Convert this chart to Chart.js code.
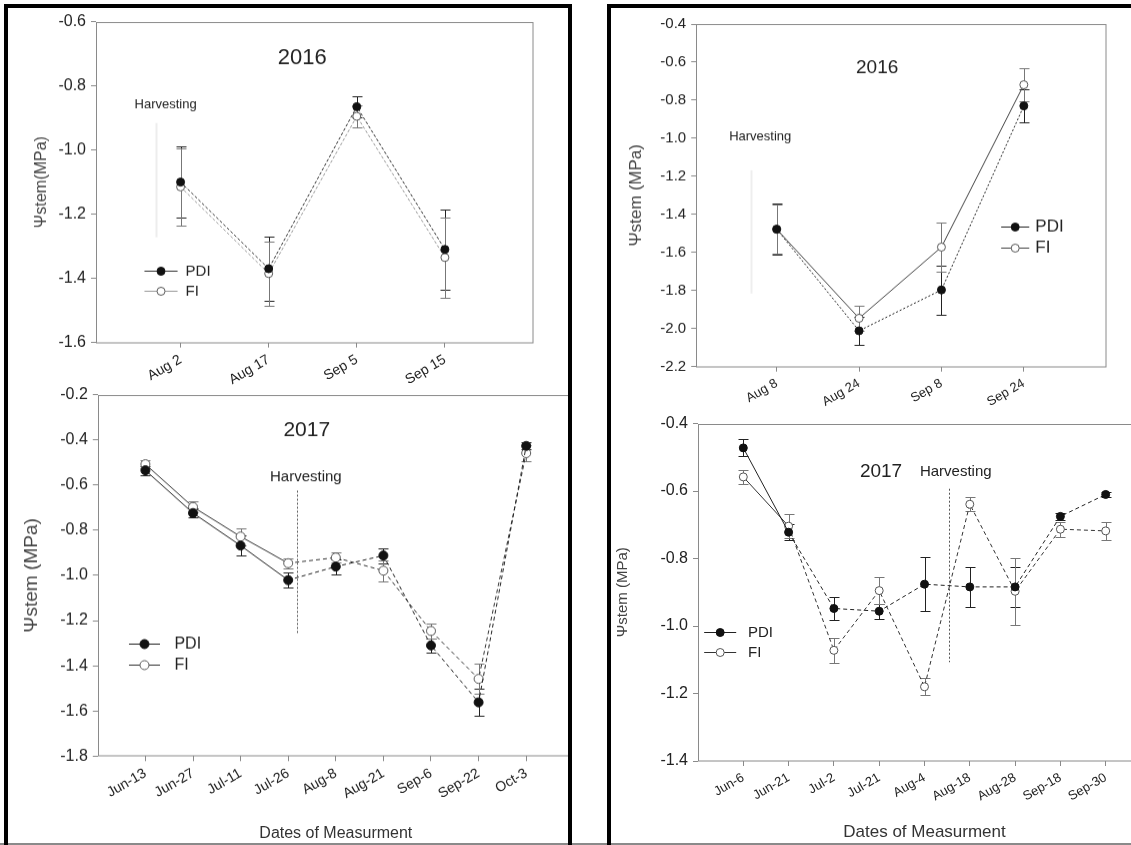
<!DOCTYPE html>
<html>
<head>
<meta charset="utf-8">
<script src="https://cdn.jsdelivr.net/npm/chart.js@4.4.1/dist/chart.umd.min.js"></script>
<style>
  html, body { margin: 0; padding: 0; background: #fff; width: 1131px; height: 845px; overflow: hidden; }
  .panel { position: absolute; top: 4px; height: 900px; border: 4px solid #000; overflow: hidden; }
  #left { left: 4px; width: 560px; }
  #right { left: 607px; width: 620px; }
  .box { position: absolute; left: 0; top: 0; width: 400px; height: 300px; }
  #bottomLine { position: absolute; left: 0; top: 843px; width: 1131px; height: 2px; background: #8a8a8a; }
</style>
</head>
<body>
<div id="bottomLine"></div>
<div id="left" class="panel">
  <div class="box" id="boxL16"><canvas id="cL16"></canvas></div>
  <div class="box" id="boxL17"><canvas id="cL17"></canvas></div>
</div>
<div id="right" class="panel">
  <div class="box" id="boxR16"><canvas id="cR16"></canvas></div>
  <div class="box" id="boxR17"><canvas id="cR17"></canvas></div>
</div>
<script>
// left panel, 2016
const L16_CATS = ['Aug 2', 'Aug 17', 'Sep 5', 'Sep 15'];
const L16_PDI = [-1.10, -1.37, -0.865, -1.31];
const L16_PDI_ERR = [0.11, 0.10, 0.032, 0.125];
const L16_FI = [-1.115, -1.385, -0.895, -1.335];
const L16_FI_ERR = [0.12, 0.10, 0.035, 0.125];
const L16_YTICKS = [-1.6, -1.4, -1.2, -1.0, -0.8, -0.6];

// left panel, 2017
const L17_CATS = ['Jun-13', 'Jun-27', 'Jul-11', 'Jul-26', 'Aug-8', 'Aug-21', 'Sep-6', 'Sep-22', 'Oct-3'];
const L17_PDI = [-0.535, -0.724, -0.868, -1.021, -0.961, -0.912, -1.31, -1.562, -0.427];
const L17_PDI_ERR = [0.02, 0.02, 0.045, 0.032, 0.033, 0.033, 0.03, 0.06, 0.015];
const L17_FI = [-0.508, -0.697, -0.828, -0.946, -0.921, -0.979, -1.246, -1.458, -0.459];
const L17_FI_ERR = [0.017, 0.025, 0.038, 0.022, 0.022, 0.046, 0.032, 0.066, 0.035];
const L17_YTICKS = [-1.8, -1.6, -1.4, -1.2, -1.0, -0.8, -0.6, -0.4, -0.2];

// right panel, 2016
const R16_CATS = ['Aug 8', 'Aug 24', 'Sep 8', 'Sep 24'];
const R16_PDI = [-1.478, -2.012, -1.797, -0.83];
const R16_PDI_ERR = [0.135, 0.075, 0.13, 0.087];
const R16_FI = [-1.478, -1.946, -1.572, -0.719];
const R16_FI_ERR = [0.13, 0.065, 0.13, 0.088];
const R16_YTICKS = [-2.2, -2.0, -1.8, -1.6, -1.4, -1.2, -1.0, -0.8, -0.6, -0.4];

// right panel, 2017
const R17_CATS = ['Jun-6', 'Jun-21', 'Jul-2', 'Jul-21', 'Aug-4', 'Aug-18', 'Aug-28', 'Sep-18', 'Sep-30'];
const R17_PDI = [-0.472, -0.722, -0.948, -0.956, -0.876, -0.884, -0.884, -0.675, -0.61];
const R17_PDI_ERR = [0.025, 0.024, 0.033, 0.022, 0.08, 0.06, 0.06, 0.01, 0.008];
const R17_FI = [-0.558, -0.704, -1.072, -0.895, -1.18, -0.639, -0.897, -0.713, -0.718];
const R17_FI_ERR = [0.02, 0.035, 0.038, 0.04, 0.025, 0.02, 0.10, 0.022, 0.026];
const R17_YTICKS = [-1.4, -1.2, -1.0, -0.8, -0.6, -0.4];

Chart.defaults.font.family = '"Liberation Sans", Arial, Helvetica, sans-serif';
Chart.defaults.color = '#222';

const toPoints = vals => vals.map((v, i) => ({ x: i, y: v }));

// frame, harvest line, error bars, in-plot texts and legend
const decor = {
  id: 'decor',
  beforeDatasetsDraw(chart, args, o) {
    const { ctx, chartArea: a, scales: { x, y } } = chart;
    ctx.save();
    ctx.strokeStyle = '#8a8a8a';
    ctx.lineWidth = 1;
    const l = Math.round(a.left) + 0.5, t = Math.round(a.top) + 0.5;
    ctx.strokeRect(l, t, Math.round(a.right) - l, Math.round(a.bottom) - t);

    if (o.vline) {
      const v = o.vline;
      ctx.strokeStyle = v.color;
      ctx.lineWidth = v.width;
      ctx.setLineDash(v.dash || []);
      const px = Math.round(x.getPixelForValue(v.x)) + 0.5;
      ctx.beginPath();
      ctx.moveTo(px, y.getPixelForValue(v.y0));
      ctx.lineTo(px, y.getPixelForValue(v.y1));
      ctx.stroke();
      ctx.setLineDash([]);
    }

    ctx.lineWidth = 1;
    chart.data.datasets.forEach(ds => {
      if (!ds.err) return;
      ctx.strokeStyle = ds.errColor;
      ds.data.forEach((p, j) => {
        const px = Math.round(x.getPixelForValue(p.x)) + 0.5;
        const yt = Math.round(y.getPixelForValue(p.y + ds.err[j])) + 0.5;
        const yb = Math.round(y.getPixelForValue(p.y - ds.err[j])) + 0.5;
        ctx.beginPath();
        ctx.moveTo(px, yt); ctx.lineTo(px, yb);
        ctx.moveTo(px - 5, yt); ctx.lineTo(px + 5, yt);
        ctx.moveTo(px - 5, yb); ctx.lineTo(px + 5, yb);
        ctx.stroke();
      });
    });
    ctx.restore();
  },
  afterDatasetsDraw(chart, args, o) {
    const { ctx, scales: { x, y } } = chart;
    ctx.save();
    ctx.fillStyle = '#222';
    ctx.textBaseline = 'middle';
    ctx.textAlign = 'center';
    const ff = Chart.defaults.font.family;
    [o.title, o.harvest].forEach(t => {
      if (!t) return;
      ctx.font = `${t.size}px ${ff}`;
      ctx.fillText(t.text, x.getPixelForValue(t.x), y.getPixelForValue(t.y));
    });

    if (o.legend) {
      const lg = o.legend;
      ctx.textAlign = 'left';
      ctx.font = `${lg.size}px ${ff}`;
      chart.data.datasets.forEach((ds, i) => {
        const py = Math.round(y.getPixelForValue(lg.y[i])) + 0.5;
        const x0 = x.getPixelForValue(lg.x0), x1 = x.getPixelForValue(lg.x1);
        ctx.strokeStyle = ds.borderColor;
        ctx.lineWidth = 1;
        ctx.beginPath(); ctx.moveTo(x0, py); ctx.lineTo(x1, py); ctx.stroke();
        ctx.beginPath();
        ctx.arc((x0 + x1) / 2, py, ds.pointRadius, 0, Math.PI * 2);
        ctx.fillStyle = ds.pointBackgroundColor;
        ctx.fill();
        ctx.strokeStyle = ds.pointBorderColor;
        ctx.stroke();
        ctx.fillStyle = '#222';
        ctx.fillText(ds.label, x.getPixelForValue(lg.xt), py);
      });
    }
    ctx.restore();
  }
};

function buildConfig(o) {
  const dash = o.dashFrom;
  const series = (label, vals, err, fill, line, errColor) => ({
    label,
    data: toPoints(vals),
    err,
    errColor,
    borderColor: line,
    borderWidth: 1,
    borderDash: o.baseDash[label] || [],
    segment: dash !== undefined
      ? { borderDash: c => (c.p0DataIndex >= dash ? [4, 3] : undefined) }
      : {},
    pointRadius: o.radius,
    pointBackgroundColor: fill,
    pointBorderColor: label === 'PDI' ? '#111' : '#555',
    pointBorderWidth: 1,
    tension: 0
  });

  return {
    type: 'line',
    data: {
      datasets: [
        series('PDI', o.pdi, o.pdiErr, '#111', o.pdiLine, '#222'),
        series('FI', o.fi, o.fiErr, '#fff', o.fiLine, '#777')
      ]
    },
    options: {
      responsive: true,
      maintainAspectRatio: false,
      animation: false,
      layout: { padding: { top: 12, right: 3, left: 0, bottom: 0 } },
      plugins: { legend: { display: false }, tooltip: { enabled: false }, decor: o.decor },
      scales: {
        x: {
          type: 'linear',
          min: o.xmin,
          max: o.xmax,
          afterBuildTicks: s => { s.ticks = o.cats.map((c, i) => ({ value: i })); },
          afterFit: s => { s.height = o.hx; },
          grid: { display: true, drawOnChartArea: false, drawTicks: true, tickLength: 5, color: '#8a8a8a' },
          border: { display: false },
          ticks: {
            autoSkip: false,
            minRotation: 30,
            maxRotation: 30,
            padding: 4,
            font: { size: o.xFont },
            callback: v => o.cats[v] ?? ''
          },
          title: o.xTitle
            ? { display: true, text: o.xTitle, font: { size: o.xTitleSize }, color: '#333', padding: { top: 4, bottom: 4 } }
            : { display: false }
        },
        y: {
          min: o.yticks[0],
          max: o.yticks[o.yticks.length - 1],
          afterBuildTicks: s => { s.ticks = o.yticks.map(v => ({ value: v })); },
          afterFit: s => { s.width = o.ly; },
          grid: { display: true, drawOnChartArea: false, drawTicks: true, tickLength: 5, color: '#8a8a8a' },
          border: { display: false },
          ticks: { padding: 5, font: { size: o.yFont }, callback: v => v.toFixed(1) },
          title: { display: true, text: o.yTitle, font: { size: o.yTitleSize }, color: '#444', padding: { top: 4, bottom: 4 } }
        }
      }
    },
    plugins: [decor]
  };
}

// put the chart so that its plot area lands on the wanted page box
function place(boxId, cfg, area, origin) {
  const box = document.getElementById(boxId);
  const chart = new Chart(box.querySelector('canvas'), cfg);
  for (let k = 0; k < 2; k++) {
    const ca = chart.chartArea;
    const ml = ca.left, mt = ca.top, mr = chart.width - ca.right, mb = chart.height - ca.bottom;
    box.style.left = (area.left - ml - origin[0]) + 'px';
    box.style.top = (area.top - mt - origin[1]) + 'px';
    box.style.width = (area.right - area.left + ml + mr) + 'px';
    box.style.height = (area.bottom - area.top + mt + mb) + 'px';
    chart.resize();
  }
  return chart;
}

const LEFT = [8, 8];
const RIGHT = [611, 8];

place('boxL16', buildConfig({
  cats: L16_CATS, pdi: L16_PDI, pdiErr: L16_PDI_ERR, fi: L16_FI, fiErr: L16_FI_ERR, yticks: L16_YTICKS,
  xmin: -0.96, xmax: 4, ly: 68, hx: 50, radius: 4, xFont: 14, yFont: 16,
  yTitle: 'Ψstem(MPa)', yTitleSize: 16,
  pdiLine: '#333', fiLine: '#999', baseDash: { PDI: [3, 2], FI: [3, 2] },
  decor: {
    title: { text: '2016', x: 1.38, y: -0.7125, size: 22 },
    harvest: { text: 'Harvesting', x: -0.17, y: -0.859, size: 13 },
    vline: { x: -0.28, y0: -0.916, y1: -1.272, color: '#ededed', width: 2 },
    legend: { x0: -0.41, x1: -0.034, xt: 0.057, y: [-1.375, -1.4375], size: 15 }
  }
}), { left: 96, right: 533, top: 22, bottom: 342 }, LEFT);

place('boxL17', buildConfig({
  cats: L17_CATS, pdi: L17_PDI, pdiErr: L17_PDI_ERR, fi: L17_FI, fiErr: L17_FI_ERR, yticks: L17_YTICKS,
  xmin: -1, xmax: 9, ly: 81.8, hx: 90.6, radius: 4.5, xFont: 14, yFont: 16,
  yTitle: 'Ψstem (MPa)', yTitleSize: 19, xTitle: 'Dates of Measurment', xTitleSize: 16,
  pdiLine: '#222', fiLine: '#333', baseDash: {}, dashFrom: 3,
  decor: {
    title: { text: '2017', x: 3.39, y: -0.358, size: 21 },
    harvest: { text: 'Harvesting', x: 3.37, y: -0.566, size: 15 },
    vline: { x: 3.18, y0: -0.625, y1: -1.26, color: '#555', width: 1, dash: [2, 2] },
    legend: { x0: -0.345, x1: 0.307, xt: 0.61, y: [-1.302, -1.393], size: 16 }
  }
}), { left: 97.4, right: 573.4, top: 394.3, bottom: 755 }, LEFT);

place('boxR16', buildConfig({
  cats: R16_CATS, pdi: R16_PDI, pdiErr: R16_PDI_ERR, fi: R16_FI, fiErr: R16_FI_ERR, yticks: R16_YTICKS,
  xmin: -0.977, xmax: 4, ly: 74.2, hx: 50, radius: 4, xFont: 13, yFont: 15,
  yTitle: 'Ψstem (MPa)', yTitleSize: 17,
  pdiLine: '#222', fiLine: '#444', baseDash: { PDI: [2, 2] },
  decor: {
    title: { text: '2016', x: 1.22, y: -0.63, size: 19 },
    harvest: { text: 'Harvesting', x: -0.2, y: -0.994, size: 13 },
    vline: { x: -0.31, y0: -1.168, y1: -1.816, color: '#eeeeee', width: 2 },
    legend: { x0: 2.725, x1: 3.066, xt: 3.14, y: [-1.463, -1.573], size: 17 }
  }
}), { left: 696, right: 1106, top: 24.3, bottom: 366 }, RIGHT);

place('boxR17', buildConfig({
  cats: R17_CATS, pdi: R17_PDI, pdiErr: R17_PDI_ERR, fi: R17_FI, fiErr: R17_FI_ERR, yticks: R17_YTICKS,
  xmin: -1, xmax: 9, ly: 88, hx: 85.5, radius: 4, xFont: 13, yFont: 16,
  yTitle: 'Ψstem (MPa)', yTitleSize: 15, xTitle: 'Dates of Measurment', xTitleSize: 17,
  pdiLine: '#222', fiLine: '#333', baseDash: {}, dashFrom: 1,
  decor: {
    title: { text: '2017', x: 3.04, y: -0.543, size: 19 },
    harvest: { text: 'Harvesting', x: 4.69, y: -0.543, size: 15 },
    vline: { x: 4.55, y0: -0.593, y1: -1.107, color: '#555', width: 1, dash: [2, 2] },
    legend: { x0: -0.864, x1: -0.157, xt: 0.104, y: [-1.019, -1.078], size: 15 }
  }
}), { left: 697.7, right: 1150.7, top: 423.3, bottom: 760.7 }, RIGHT);
</script>
</body>
</html>
